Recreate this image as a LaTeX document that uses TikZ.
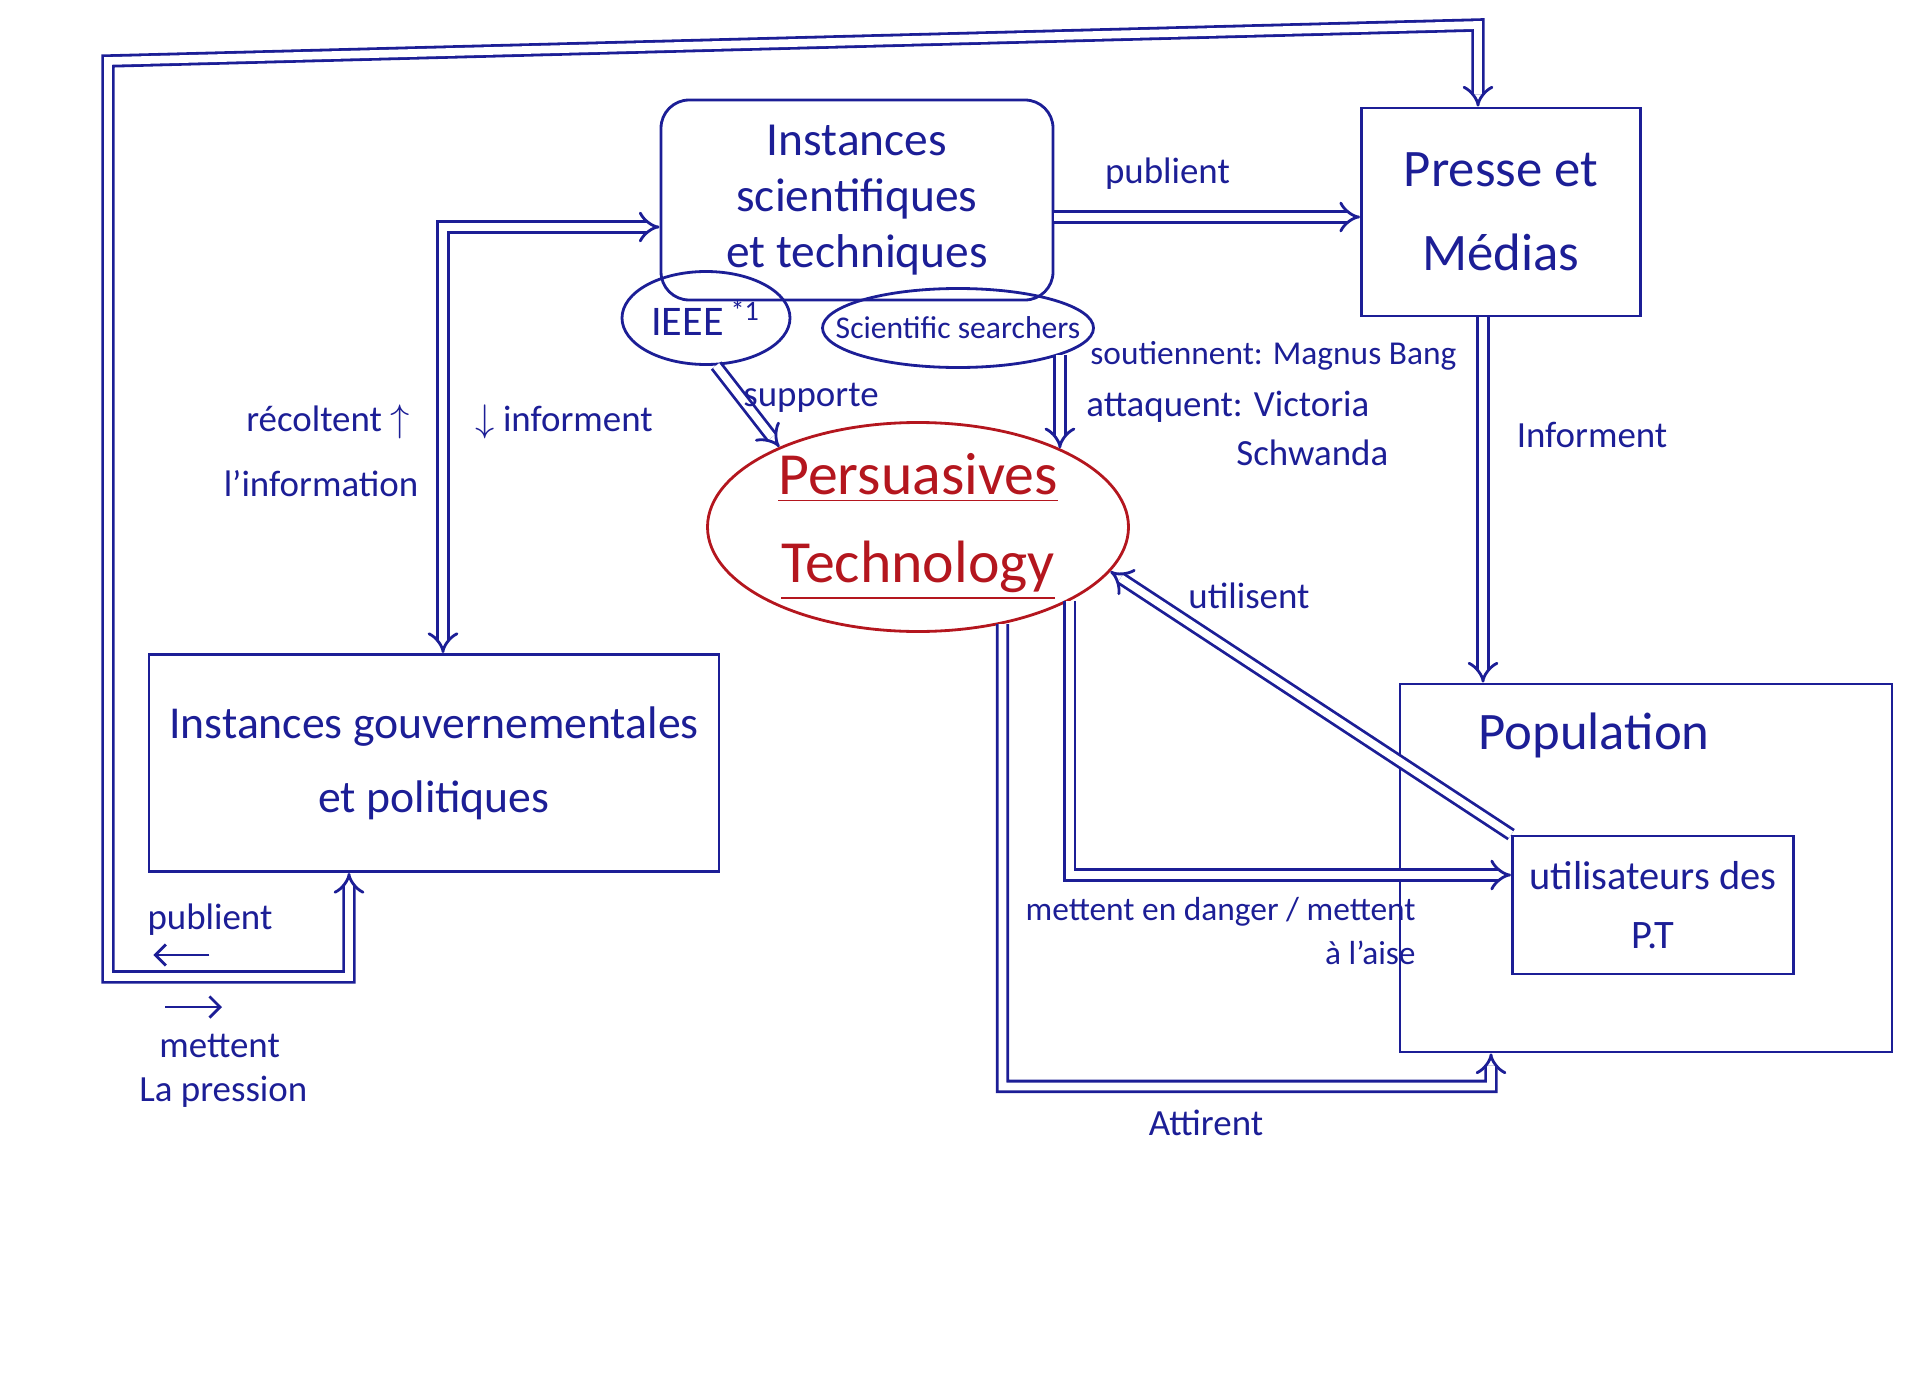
\documentclass[tikz,border=0pt]{standalone}
\usepackage{fontspec}
\setmainfont{Carlito}
\usepackage{tikz}
\usetikzlibrary{arrows.meta,shapes,calc,positioning}
\definecolor{ink}{RGB}{28,30,150}
\definecolor{redink}{RGB}{180,22,30}
\tikzset{
	box/.style={draw=ink,thick,rectangle,align=center,text=ink},
	bulle/.style={draw=ink,thick,ellipse,inner sep=0pt,align=center,text=ink},
	dbl/.style={draw=ink,double,double distance=2.2pt,line width=0.8pt,-{Implies}},
	fleche/.style={draw=ink,thick,-{Straight Barb[length=3pt,width=6pt]}},
	lbl/.style={text=ink,font=\fontsize{10.5}{12.5}\selectfont},
}
\begin{document}
\begin{tikzpicture}
	\useasboundingbox (0,0) rectangle (19.2,-13.8);
	% boxes
	\node[box,minimum width=3.92cm,minimum height=2cm,rounded corners=8pt,font=\fontsize{13.5}{16}\selectfont] (sci) at (8.57,-2.0) {Instances\\scientifiques\\et techniques};
	\node[box,minimum width=2.79cm,minimum height=2.08cm,font=\fontsize{15}{24}\selectfont] (presse) at (15.01,-2.12) {Presse et\\Médias};
	\node[box,minimum width=5.7cm,minimum height=2.17cm,font=\fontsize{13}{21}\selectfont] (gov) at (4.34,-7.63) {Instances gouvernementales\\et politiques};
	\node[box,minimum width=4.92cm,minimum height=3.68cm] (pop) at (16.46,-8.68) {};
	\node[text=ink,font=\fontsize{15}{18}\selectfont] (poptxt) at (15.94,-7.35) {Population};
	\node[box,minimum width=2.81cm,minimum height=1.38cm,font=\fontsize{11.5}{17}\selectfont] (users) at (16.53,-9.05) {utilisateurs des\\P.T};
	\node[bulle,minimum width=1.68cm,minimum height=0.93cm,font=\fontsize{12}{14}\selectfont] (ieee) at (7.06,-3.18) {IEEE\,\textsuperscript{*1}};
	\node[bulle,inner xsep=-0.35cm,minimum width=2.71cm,minimum height=0.79cm,font=\fontsize{9}{11}\selectfont] (searchers) at (9.58,-3.28) {Scientific searchers};
	\node[ellipse,draw=redink,thick,inner sep=0pt,align=center,minimum width=4.21cm,minimum height=2.09cm,text=redink,font=\fontsize{17}{25}\selectfont] (pt) at (9.18,-5.27) {\underline{Persuasives}\\\underline{Technology}};
	% big loop
	\coordinate (coinG) at (1.08,-0.61);
	\coordinate (coinD) at (14.78,-0.25);
	\draw[dbl,{Implies}-{Implies}] ([xshift=-0.85cm]gov.south) -- ++(0,-1.04) -| (coinG) -- (coinD) -- (coinD |- presse.north);
	\node[lbl,inner sep=1pt] (lpub2) at (2.1,-9.2) {publient};
	\draw[fleche] ([xshift=0.66cm,yshift=-0.15cm]lpub2.south west) -- ++(-0.56,0);
	\node[lbl,align=left,anchor=north west] (lpres) at (1.27,-10.22) {\hspace{0.2cm}mettent\\La pression};
	\draw[fleche] ([xshift=0.38cm,yshift=0.15cm]lpres.north west) -- ++(0.57,0);
	% links
	\draw[dbl] ([yshift=-0.17cm]sci.east) -- ([yshift=-0.17cm]sci.east -| presse.west) node[lbl,above=4pt,pos=0.37] (lpub) {publient};
	\draw[dbl,{Implies}-{Implies}] ([xshift=0.09cm]gov.north) |- ([yshift=-0.27cm]sci.west);
	\node[lbl,anchor=east] (lrec) at (4.22,-4.22) {récoltent $\uparrow$};
	\node[lbl] (linfo) at (3.21,-4.84) {l'information};
	\node[lbl,anchor=west] (linf) at (4.63,-4.22) {$\downarrow$ informent};
	\draw[dbl] (ieee.-78) -- (pt.150);
	\node[lbl] (lsup) at (8.11,-3.98) {supporte};
	\draw[dbl] (searchers.-15) -- (searchers.-15 |- pt.29);
	\node[lbl,font=\fontsize{9.5}{11}\selectfont,anchor=base west] (lsout) at (10.78,-3.64) {soutiennent: Magnus Bang};
	\node[lbl,anchor=base west] (latt) at (10.74,-4.16) {attaquent: Victoria};
	\node[lbl,anchor=base west] (lsch) at (12.24,-4.65) {Schwanda};
	\draw[dbl] ([xshift=-0.18cm]presse.south) -- ([xshift=-0.18cm]presse.south |- pop.north);
	\node[lbl] (linf2) at (15.92,-4.35) {Informent};
	\draw[dbl,{Implies}-] (pt.-13) -- (users.north west);
	\node[lbl] (luti) at (12.49,-5.96) {utilisent};
	\draw[dbl] (pt.-26) |- ([yshift=0.3cm]users.west);
	\node[lbl,font=\fontsize{9.5}{12.5}\selectfont,align=right,anchor=north east] (ldanger) at (14.28,-8.85) {mettent en danger / mettent\\à l'aise};
	\draw[dbl] (pt.-49) |- ($(pop.south)+(-1.55,-0.33)$) -- ([xshift=-1.55cm]pop.south);
	\node[lbl] (latt2) at (12.06,-11.23) {Attirent};
\end{tikzpicture}
\end{document}
